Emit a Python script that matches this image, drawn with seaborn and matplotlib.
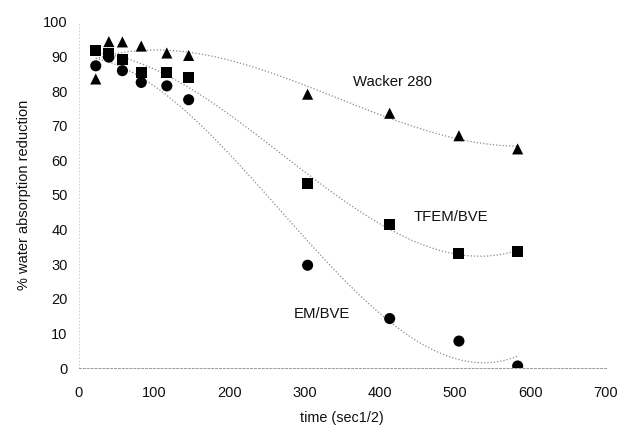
import numpy as np
import pandas as pd
import matplotlib
matplotlib.use("Agg")
import matplotlib.pyplot as plt
import seaborn as sns

# Data
time = [22.6, 40, 58, 83, 117, 146, 304, 413, 505, 583]
wacker = [83.5, 94.3, 94.2, 93.0, 91.0, 90.3, 79.1, 73.6, 67.1, 63.3]
tfem = [91.7, 90.8, 89.2, 85.3, 85.4, 83.9, 53.4, 41.5, 33.0, 33.7]
em = [87.3, 89.8, 85.9, 82.5, 81.5, 77.5, 29.7, 14.3, 7.8, 0.6]
series_names = ["Wacker 280", "TFEM/BVE", "EM/BVE"]
label_pos_x = [417, 494, 323]
label_pos_y = [82.7, 43.6, 15.6]
x_ticks = [0, 100, 200, 300, 400, 500, 600, 700]
y_ticks = [0, 10, 20, 30, 40, 50, 60, 70, 80, 90, 100]

df = pd.DataFrame({
    "time": time * 3,
    "value": wacker + tfem + em,
    "series": [series_names[0]] * len(time) + [series_names[1]] * len(time) + [series_names[2]] * len(time),
})

sns.set_theme(style="white")
plt.rcParams["font.family"] = ["Liberation Sans", "DejaVu Sans"]

fig = plt.figure(figsize=(6.2, 4.28), dpi=100)
ax = fig.add_axes([0.127, 0.140, 0.850, 0.809])

markers = {"Wacker 280": "^", "TFEM/BVE": "s", "EM/BVE": "o"}
for name in series_names:
    sub = df[df["series"] == name]
    sns.regplot(data=sub, x="time", y="value", order=3, ci=None, scatter=False,
                ax=ax, line_kws=dict(color="#8a8a8a", lw=0.9, linestyle=(0, (1, 1.6))))
sns.scatterplot(data=df, x="time", y="value", style="series", markers=markers,
                color="black", s=64, edgecolor="black", linewidth=0, ax=ax,
                legend=False, zorder=3)

for name, lx, ly in zip(series_names, label_pos_x, label_pos_y):
    ax.text(lx, ly, name, ha="center", va="center", fontsize=10.7, color="#111111")

ax.set_xlim(0, 700)
ax.set_ylim(0, 100)
ax.set_xticks(x_ticks)
ax.set_yticks(y_ticks)
ax.tick_params(axis="both", labelsize=10.5, colors="#111111", length=0)
ax.tick_params(axis="x", pad=13)
ax.tick_params(axis="y", pad=8)
ax.set_xlabel("time (sec1/2)", fontsize=10.4, color="#111111", labelpad=8)
ax.set_ylabel("% water absorption reduction", fontsize=10.5, color="#111111", labelpad=9)

for side in ["top", "right"]:
    ax.spines[side].set_visible(False)
ax.spines["left"].set_color("#c8c8c8")
ax.spines["left"].set_linewidth(0.6)
ax.spines["left"].set_linestyle((0, (1, 3)))
ax.spines["bottom"].set_color("#9a9a9a")
ax.spines["bottom"].set_linewidth(0.7)
ax.spines["bottom"].set_linestyle((0, (2, 2)))
ax.grid(False)

fig.savefig("out.png", dpi=100, facecolor="white")
